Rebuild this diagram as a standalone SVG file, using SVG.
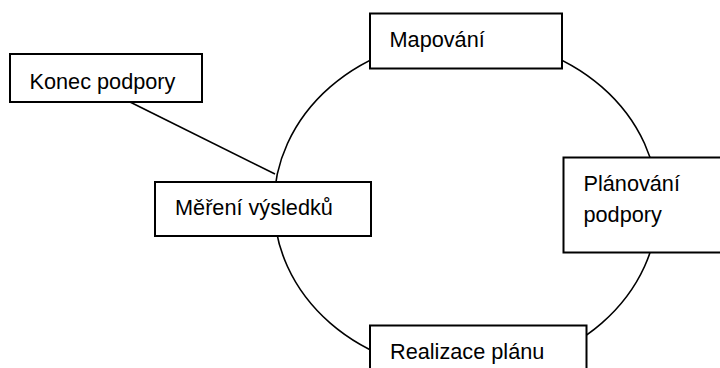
<svg xmlns="http://www.w3.org/2000/svg" width="720" height="368" viewBox="0 0 720 368">
<style>
.box{fill:#fff;stroke:#000;stroke-width:2}
.conn{fill:none;stroke:#000;stroke-width:1.6}
.lbl{font-family:"Liberation Sans",Arial,sans-serif;font-size:21.7px;fill:#000}
</style>
<rect width="720" height="368" fill="#fff"/>
<g id="connectors">
<ellipse class="conn" cx="466" cy="205" rx="192" ry="167"/>
<line class="conn" x1="130" y1="102" x2="275" y2="174"/>
</g>
<g id="konec">
<rect class="box" x="10" y="54" width="192" height="48"/>
<text class="lbl" x="29.5" y="88.5">Konec podpory</text>
</g>
<g id="mereni">
<rect class="box" x="155" y="182" width="216" height="54"/>
<text class="lbl" x="175" y="215">Měření výsledků</text>
</g>
<g id="mapovani">
<rect class="box" x="370" y="13.5" width="192" height="55"/>
<text class="lbl" x="389.5" y="47">Mapování</text>
</g>
<g id="planovani">
<rect class="box" x="563.5" y="157.5" width="170" height="95"/>
<text class="lbl" x="583.5" y="191">Plánování</text>
<text class="lbl" x="583.5" y="221.5">podpory</text>
</g>
<g id="realizace">
<rect class="box" x="370" y="325.5" width="216.5" height="60"/>
<text class="lbl" x="390" y="358.5">Realizace plánu</text>
</g>
</svg>
